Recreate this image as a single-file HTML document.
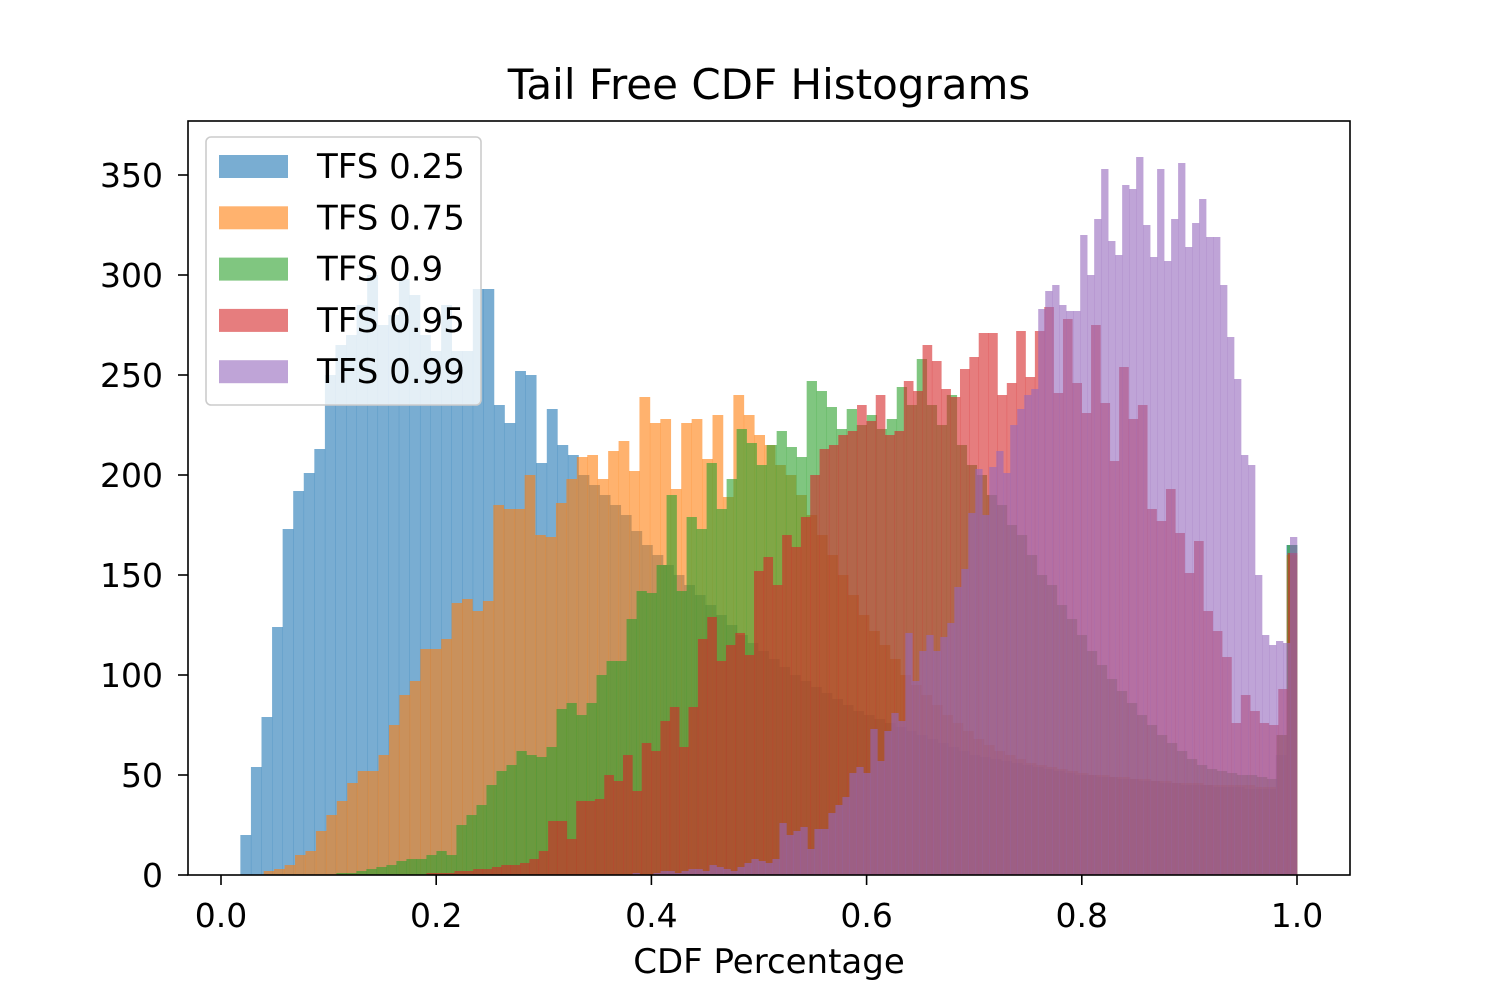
<!DOCTYPE html>
<html><head><meta charset="utf-8"><style>
html,body{margin:0;padding:0;background:#fff;}
svg text{font-family:"DejaVu Sans","Liberation Sans",sans-serif;fill:#000;}
</style></head><body>
<svg id="chart" width="1500" height="1000" xmlns="http://www.w3.org/2000/svg">
<rect x="0" y="0" width="1500" height="1000" fill="#fff"/>
<text x="769" y="99" font-size="42" text-anchor="middle">Tail Free CDF Histograms</text>
<g id="bars"></g>
<rect x="188" y="121" width="1162" height="754" fill="none" stroke="#000" stroke-width="1.6"/>
<g id="axes"></g>
<text x="769" y="973" font-size="34" text-anchor="middle">CDF Percentage</text>
<g id="legend"></g>
</svg>
<script>
const seriesNames = ["TFS 0.25","TFS 0.75","TFS 0.9","TFS 0.95","TFS 0.99"];
const seriesColors = ["#1f77b4","#ff7f0e","#2ca02c","#d62728","#9467bd"];
const binStarts = [0.018, 0.03, 0.07, 0.13, 0.35];
const binEnd = 1.0;
const blueCounts = [20,54,79,124,173,192,201,213,250,265,270,285,300,275,280,298,290,270,262,285,262,262,293,293,235,226,252,250,206,233,215,210,200,195,190,185,180,172,165,160,155,150,145,140,135,130,125,120,116,112,108,104,100,97,94,91,88,85,82,80,78,76,74,72,70,68,66,64,62,60,59,58,57,56,55,54,53,52,51,50,50,49,49,48,48,47,47,46,46,45,45,45,44,44,44,43,43,43,60,165];
const orangeCounts = [0,2,3,5,10,12,22,30,37,46,52,52,60,75,90,97,113,113,118,136,138,132,137,185,183,183,200,170,169,186,198,209,210,198,212,217,202,239,226,228,193,226,228,208,230,189,240,230,220,215,205,200,190,180,170,160,150,140,130,122,115,108,100,95,90,85,80,76,72,68,65,62,60,58,56,55,54,53,52,51,50,50,49,49,48,48,47,47,46,46,46,45,45,45,45,45,44,44,70,160];
const greenCounts = [0,0,0,0,1,1,2,3,4,5,7,8,8,10,12,10,25,30,35,45,52,55,62,60,59,64,83,86,80,86,100,107,107,128,142,141,155,190,142,179,173,206,183,198,223,216,205,215,222,214,209,247,242,234,223,233,225,230,223,228,244,235,258,235,225,240,215,205,200,190,185,175,170,160,150,145,135,128,120,112,105,98,92,86,80,75,70,66,62,58,55,53,52,51,50,50,49,48,70,165];
const redCounts = [0,0,0,0,0,0,0,1,1,1,2,2,3,3,4,5,5,6,8,12,27,27,18,37,37,38,50,47,60,42,66,62,77,84,64,84,118,129,107,115,121,110,152,159,145,170,164,179,200,213,215,220,222,235,227,240,220,222,247,242,265,257,243,239,253,259,271,271,240,246,272,249,272,284,241,278,246,231,275,236,207,254,228,235,183,177,193,171,151,167,132,122,109,76,90,82,76,75,93,161];
const purpleCounts = [0,0,0,0,0,1,0,0,1,2,2,1,2,3,3,2,5,4,3,2,4,6,8,7,6,8,26,20,22,24,13,23,23,31,35,39,51,54,51,73,57,72,81,77,121,97,112,120,112,119,126,144,153,181,203,180,204,212,201,225,233,240,243,283,292,295,285,282,282,320,300,328,353,317,310,345,343,359,325,309,353,307,328,356,314,326,338,319,319,295,269,248,210,205,150,120,115,117,116,169];
const yTicks = [0,50,100,150,200,250,300,350];
const xTicks = [0.0,0.2,0.4,0.6,0.8,1.0];
const xTickLabels = ["0.0","0.2","0.4","0.6","0.8","1.0"];

const NS="http://www.w3.org/2000/svg";
const xScale = v => 221 + v*1076;
const yScale = v => 875 - v*2;
const allCounts=[blueCounts,orangeCounts,greenCounts,redCounts,purpleCounts];
const barsG=document.getElementById('bars');
allCounts.forEach((counts,s)=>{
  const g=document.createElementNS(NS,'g');
  
  
  g.setAttribute('fill',seriesColors[s]);
  g.setAttribute('fill-opacity','0.6');
  const w=(binEnd-binStarts[s])/counts.length;
  counts.forEach((c,i)=>{
    if(c<=0) return;
    const x0=xScale(binStarts[s]+i*w), x1=xScale(binStarts[s]+(i+1)*w);
    const r=document.createElementNS(NS,'rect');
    
    
    r.setAttribute('x',x0);r.setAttribute('width',x1-x0+0.3);
    r.setAttribute('y',yScale(c));r.setAttribute('height',yScale(0)-yScale(c));
    g.appendChild(r);
  });
  barsG.appendChild(g);
});
const axes=document.getElementById('axes');
yTicks.forEach(t=>{
  const l=document.createElementNS(NS,'line');
  
  
  l.setAttribute('x1',188);l.setAttribute('x2',178);l.setAttribute('y1',yScale(t));l.setAttribute('y2',yScale(t));
  l.setAttribute('stroke','#000');l.setAttribute('stroke-width','1.6');axes.appendChild(l);
  const tx=document.createElementNS(NS,'text');
  
  
  tx.setAttribute('x',163);tx.setAttribute('y',yScale(t)+12);tx.setAttribute('font-size','33');tx.setAttribute('text-anchor','end');
  tx.textContent=t;axes.appendChild(tx);
});
xTicks.forEach((t,i)=>{
  const l=document.createElementNS(NS,'line');
  
  
  l.setAttribute('x1',xScale(t));l.setAttribute('x2',xScale(t));l.setAttribute('y1',875);l.setAttribute('y2',885);
  l.setAttribute('stroke','#000');l.setAttribute('stroke-width','1.6');axes.appendChild(l);
  const tx=document.createElementNS(NS,'text');
  
  
  tx.setAttribute('x',xScale(t));tx.setAttribute('y',927);tx.setAttribute('font-size','33');tx.setAttribute('text-anchor','middle');
  tx.textContent=xTickLabels[i];axes.appendChild(tx);
});
const leg=document.getElementById('legend');
const box=document.createElementNS(NS,'rect');


box.setAttribute('x',206);box.setAttribute('y',137);box.setAttribute('width',275);box.setAttribute('height',268);box.setAttribute('rx',5);
box.setAttribute('fill','#fff');box.setAttribute('fill-opacity','0.8');box.setAttribute('stroke','#ccc');box.setAttribute('stroke-width','1.6');
leg.appendChild(box);
seriesNames.forEach((n,i)=>{
  const cy=166+i*51.3;
  const p=document.createElementNS(NS,'rect');
  
  
  p.setAttribute('x',219);p.setAttribute('y',cy-11);p.setAttribute('width',69);p.setAttribute('height',23);
  p.setAttribute('fill',seriesColors[i]);p.setAttribute('fill-opacity','0.6');leg.appendChild(p);
  const tx=document.createElementNS(NS,'text');
  
  
  tx.setAttribute('x',317);tx.setAttribute('y',cy+12);tx.setAttribute('font-size','34');
  tx.textContent=n;leg.appendChild(tx);
});
</script>
</body></html>
